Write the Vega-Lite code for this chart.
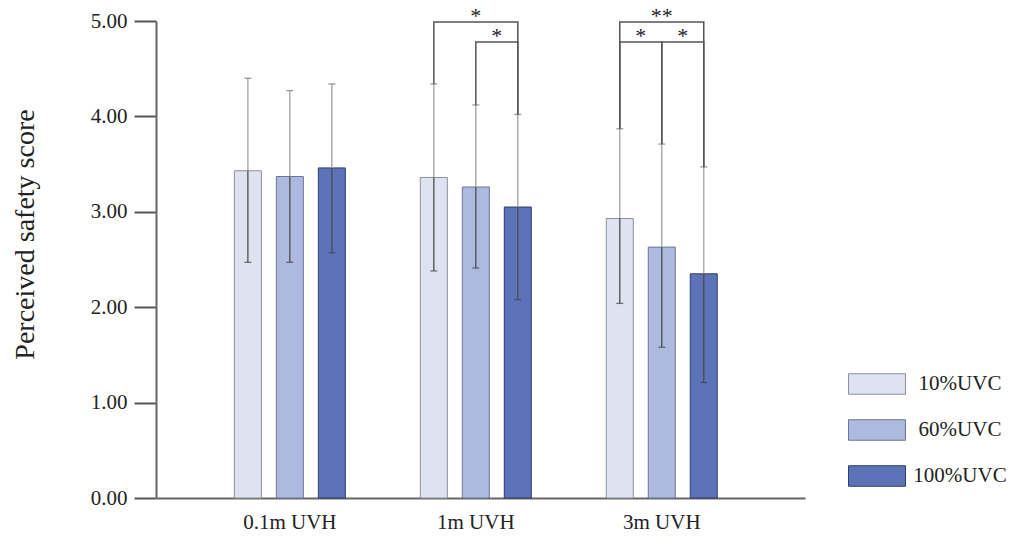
{
  "$schema": "https://vega.github.io/schema/vega-lite/v6.json",
  "width": 649,
  "height": 477,
  "autosize": {"type": "none"},
  "padding": {"left": 156, "top": 21, "right": 208, "bottom": 47},
  "background": "white",
  "config": {
    "view": {"stroke": null},
    "font": "Liberation Serif"
  },
  "datasets": {
    "bars": [
      {"g": "0.1m UVH", "c": "10%UVC", "m": 3.43, "lo": 2.47, "hi": 4.40},
      {"g": "0.1m UVH", "c": "60%UVC", "m": 3.37, "lo": 2.47, "hi": 4.27},
      {"g": "0.1m UVH", "c": "100%UVC", "m": 3.46, "lo": 2.57, "hi": 4.34},
      {"g": "1m UVH", "c": "10%UVC", "m": 3.36, "lo": 2.38, "hi": 4.34},
      {"g": "1m UVH", "c": "60%UVC", "m": 3.26, "lo": 2.41, "hi": 4.12},
      {"g": "1m UVH", "c": "100%UVC", "m": 3.05, "lo": 2.08, "hi": 4.02},
      {"g": "3m UVH", "c": "10%UVC", "m": 2.93, "lo": 2.04, "hi": 3.87},
      {"g": "3m UVH", "c": "60%UVC", "m": 2.63, "lo": 1.58, "hi": 3.71},
      {"g": "3m UVH", "c": "100%UVC", "m": 2.35, "lo": 1.21, "hi": 3.47}
    ],
    "brackets": [
      {"id": "b1", "g": "1m UVH", "c": "10%UVC", "y": 4.34, "o": 0},
      {"id": "b1", "g": "1m UVH", "c": "10%UVC", "y": 4.99, "o": 1},
      {"id": "b1", "g": "1m UVH", "c": "100%UVC", "y": 4.99, "o": 2},
      {"id": "b1", "g": "1m UVH", "c": "100%UVC", "y": 4.02, "o": 3},
      {"id": "b2", "g": "1m UVH", "c": "60%UVC", "y": 4.12, "o": 0},
      {"id": "b2", "g": "1m UVH", "c": "60%UVC", "y": 4.78, "o": 1},
      {"id": "b2", "g": "1m UVH", "c": "100%UVC", "y": 4.78, "o": 2},
      {"id": "b2", "g": "1m UVH", "c": "100%UVC", "y": 4.02, "o": 3},
      {"id": "b3", "g": "3m UVH", "c": "10%UVC", "y": 3.87, "o": 0},
      {"id": "b3", "g": "3m UVH", "c": "10%UVC", "y": 4.99, "o": 1},
      {"id": "b3", "g": "3m UVH", "c": "100%UVC", "y": 4.99, "o": 2},
      {"id": "b3", "g": "3m UVH", "c": "100%UVC", "y": 3.47, "o": 3},
      {"id": "b4", "g": "3m UVH", "c": "10%UVC", "y": 3.87, "o": 0},
      {"id": "b4", "g": "3m UVH", "c": "10%UVC", "y": 4.78, "o": 1},
      {"id": "b4", "g": "3m UVH", "c": "60%UVC", "y": 4.78, "o": 2},
      {"id": "b4", "g": "3m UVH", "c": "60%UVC", "y": 3.71, "o": 3},
      {"id": "b5", "g": "3m UVH", "c": "60%UVC", "y": 3.71, "o": 0},
      {"id": "b5", "g": "3m UVH", "c": "60%UVC", "y": 4.78, "o": 1},
      {"id": "b5", "g": "3m UVH", "c": "100%UVC", "y": 4.78, "o": 2},
      {"id": "b5", "g": "3m UVH", "c": "100%UVC", "y": 3.47, "o": 3}
    ],
    "stars": [
      {"k": "outer", "g": "1m UVH", "c": "60%UVC", "t": "*", "y": 4.99},
      {"k": "outer", "g": "3m UVH", "c": "60%UVC", "t": "**", "y": 4.99},
      {"k": "inner", "g": "1m UVH", "c": "60%UVC", "t": "*", "y": 4.78},
      {"k": "inner", "g": "3m UVH", "c": "10%UVC", "t": "*", "y": 4.78},
      {"k": "inner", "g": "3m UVH", "c": "60%UVC", "t": "*", "y": 4.78}
    ]
  },
  "encoding": {
    "x": {
      "field": "g",
      "type": "nominal",
      "scale": {
        "domain": ["0.1m UVH", "1m UVH", "3m UVH"],
        "paddingInner": 0.35,
        "paddingOuter": 0.42,
        "align": 0.47
      },
      "axis": {
        "title": null,
        "labelAngle": 0,
        "ticks": false,
        "labelFont": "Liberation Serif",
        "labelFontSize": 21,
        "labelColor": "#222",
        "labelPadding": 13,
        "domainColor": "#666",
        "domainWidth": 2
      }
    },
    "xOffset": {
      "field": "c",
      "type": "nominal",
      "scale": {
        "domain": ["10%UVC", "60%UVC", "100%UVC"],
        "paddingInner": 0.357,
        "paddingOuter": 0.118
      }
    }
  },
  "layer": [
    {
      "data": {"name": "bars"},
      "mark": {"type": "bar", "strokeWidth": 1},
      "encoding": {
        "y": {
          "field": "m",
          "type": "quantitative",
          "scale": {"domain": [0, 5], "nice": false},
          "axis": {
            "title": "Perceived safety score",
            "titleFont": "Liberation Serif",
            "titleFontSize": 28,
            "titleFontWeight": "normal",
            "titleColor": "#222",
            "titleX": -131,
            "titleY": 213,
            "titleBaseline": "middle",
            "values": [0, 1, 2, 3, 4, 5],
            "format": ".2f",
            "grid": false,
            "labelFont": "Liberation Serif",
            "labelFontSize": 21,
            "labelColor": "#222",
            "labelPadding": 7,
            "tickSize": 22,
            "tickColor": "#555",
            "tickWidth": 2,
            "domainColor": "#666",
            "domainWidth": 2
          }
        },
        "color": {
          "field": "c",
          "type": "nominal",
          "scale": {
            "domain": ["10%UVC", "60%UVC", "100%UVC"],
            "range": ["#dee2f1", "#adb9df", "#5c73b9"]
          },
          "legend": {
            "orient": "none",
            "legendX": 706,
            "legendY": 348,
            "title": null,
            "padding": 0,
            "symbolType": "M-2,-0.72H2V0.72H-2Z",
            "symbolSize": 812,
            "symbolStrokeWidth": 1,
            "symbolOpacity": 1,
            "labelFont": "Liberation Serif",
            "labelFontSize": 21,
            "labelColor": "#222",
            "labelAlign": "center",
            "labelOffset": 68,
            "rowPadding": 18
          }
        },
        "stroke": {
          "field": "c",
          "type": "nominal",
          "scale": {
            "domain": ["10%UVC", "60%UVC", "100%UVC"],
            "range": ["#8c8f9c", "#6c7594", "#2f3d6b"]
          },
          "legend": {
            "orient": "none",
            "legendX": 706,
            "legendY": 348,
            "title": null,
            "padding": 0,
            "symbolType": "M-2,-0.72H2V0.72H-2Z",
            "symbolSize": 812,
            "symbolStrokeWidth": 1,
            "symbolOpacity": 1,
            "labelFont": "Liberation Serif",
            "labelFontSize": 21,
            "labelColor": "#222",
            "labelAlign": "center",
            "labelOffset": 68,
            "rowPadding": 18
          }
        }
      }
    },
    {
      "data": {"name": "bars"},
      "mark": {"type": "rule", "color": "#a0a0a0", "strokeWidth": 1.3},
      "encoding": {
        "y": {"field": "m", "type": "quantitative"},
        "y2": {"field": "hi"}
      }
    },
    {
      "data": {"name": "bars"},
      "mark": {"type": "rule", "color": "#4d4d4d", "strokeWidth": 1.3},
      "encoding": {
        "y": {"field": "lo", "type": "quantitative"},
        "y2": {"field": "m"}
      }
    },
    {
      "data": {"name": "bars"},
      "mark": {"type": "tick", "color": "#707070", "size": 7, "thickness": 1.3},
      "encoding": {
        "y": {"field": "hi", "type": "quantitative"}
      }
    },
    {
      "data": {"name": "bars"},
      "mark": {"type": "tick", "color": "#444", "size": 7, "thickness": 1.3},
      "encoding": {
        "y": {"field": "lo", "type": "quantitative"}
      }
    },
    {
      "data": {"name": "brackets"},
      "mark": {"type": "line", "color": "#555", "strokeWidth": 1.5, "interpolate": "linear"},
      "encoding": {
        "y": {"field": "y", "type": "quantitative"},
        "detail": {"field": "id"},
        "order": {"field": "o", "type": "quantitative"}
      }
    },
    {
      "data": {"name": "stars"},
      "transform": [{"filter": "datum.k === 'outer'"}],
      "mark": {"type": "text", "font": "Liberation Serif", "fontSize": 22, "color": "#222", "baseline": "alphabetic", "align": "center", "dy": 1},
      "encoding": {
        "y": {"field": "y", "type": "quantitative"},
        "text": {"field": "t"}
      }
    },
    {
      "data": {"name": "stars"},
      "transform": [{"filter": "datum.k === 'inner'"}],
      "mark": {"type": "text", "font": "Liberation Serif", "fontSize": 22, "color": "#222", "baseline": "alphabetic", "align": "center", "dx": 21, "dy": 1},
      "encoding": {
        "y": {"field": "y", "type": "quantitative"},
        "text": {"field": "t"}
      }
    }
  ]
}
